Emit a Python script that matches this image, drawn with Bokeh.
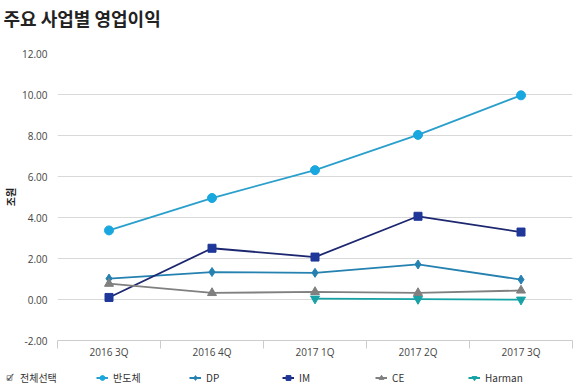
import math
from bokeh.plotting import figure
from bokeh.layouts import column, row
from bokeh.models import (Range1d, FixedTicker, NumeralTickFormatter, Legend,
                          LegendItem, Label, Title)
from bokeh.embed import file_html
from bokeh.resources import INLINE

# ---------------- data ----------------
quarters = ["2016 3Q", "2016 4Q", "2017 1Q", "2017 2Q", "2017 3Q"]
semiconductor = [3.37, 4.95, 6.31, 8.03, 9.96]
dp = [1.02, 1.34, 1.30, 1.71, 0.97]
im = [0.10, 2.50, 2.07, 4.06, 3.29]
ce = [0.77, 0.32, 0.37, 0.32, 0.44]
harman = [math.nan, math.nan, 0.04, 0.02, -0.01]
y_ticks = [-2, 0, 2, 4, 6, 8, 10, 12]
series_names = ["반도체", "DP", "IM", "CE", "Harman"]
title_text = "주요 사업별 영업이익"
y_label = "조원"
select_all_label = "전체선택"

# ---------------- main figure ----------------
n = len(quarters)
xs = [i + 0.5 for i in range(n)]

p = figure(width=580, height=367, output_backend="svg", toolbar_location=None,
           title=None,
           x_range=Range1d(0, n), y_range=Range1d(y_ticks[0], y_ticks[-1]),
           min_border_left=55, min_border_right=8, min_border_top=0,
           min_border_bottom=27)
p.outline_line_color = None
p.background_fill_color = "white"

p.add_layout(Title(text=" ", text_font_size="1px", standoff=18), "above")
p.add_layout(Title(text=title_text, text_font="Noto Sans CJK KR",
                   text_font_size="18px", text_font_style="bold",
                   text_color="#222222", offset=-54, standoff=4), "above")

p.yaxis.ticker = FixedTicker(ticks=y_ticks)
p.yaxis.formatter = NumeralTickFormatter(format="0.00")
p.yaxis.axis_line_color = None
p.yaxis.major_tick_line_color = None
p.yaxis.minor_tick_line_color = None
p.yaxis.major_tick_out = 0
p.yaxis.minor_tick_out = 0
p.yaxis.major_label_standoff = 10
p.yaxis.major_label_text_font = "Open Sans"
p.yaxis.major_label_text_font_size = "10px"
p.yaxis.major_label_text_color = "#444444"
p.yaxis.axis_label = y_label
p.yaxis.axis_label_text_font = "Noto Sans CJK KR"
p.yaxis.axis_label_text_font_size = "10px"
p.yaxis.axis_label_text_font_style = "bold"
p.yaxis.axis_label_text_color = "#222222"
p.yaxis.axis_label_standoff = 1

p.xaxis.ticker = FixedTicker(ticks=xs, minor_ticks=list(range(n + 1)))
p.xaxis.major_label_overrides = {x: q for x, q in zip(xs, quarters)}
p.xaxis.major_tick_line_color = None
p.xaxis.major_tick_out = 0
p.xaxis.major_tick_in = 0
p.xaxis.minor_tick_line_color = "#cccccc"
p.xaxis.minor_tick_out = 8
p.xaxis.minor_tick_in = 0
p.xaxis.axis_line_color = "#cccccc"
p.xaxis.major_label_standoff = -4
p.xaxis.major_label_text_font = "Open Sans"
p.xaxis.major_label_text_font_size = "10px"
p.xaxis.major_label_text_color = "#444444"

p.xgrid.visible = False
p.ygrid.grid_line_color = "#d9d9d9"
p.ygrid.grid_line_width = 1

specs = [
    (semiconductor, "#2a9fcc", "#19a7df", "circle", 9),
    (dp, "#2481b0", "#2481b0", "diamond", 9),
    (im, "#1d2770", "#1e3799", "square", 8),
    (ce, "#808080", "#808080", "triangle", 9),
    (harman, "#17a3a6", "#17a3a6", "inverted_triangle", 9),
]
for vals, lc, mc, marker, size in specs:
    p.line(xs, vals, line_color=lc, line_width=1.8)
    p.scatter(xs, vals, marker=marker, size=size, fill_color=mc, line_color=mc)

# ---------------- legend strip ----------------
LG_H = 20
lg = figure(width=580, height=LG_H, output_backend="svg",
            toolbar_location=None, title=None,
            x_range=Range1d(0, n), y_range=Range1d(y_ticks[0], y_ticks[-1]),
            x_axis_location=None, y_axis_location=None,
            min_border_left=0, min_border_right=0, min_border_top=0,
            min_border_bottom=0)
lg.outline_line_color = None
lg.xgrid.visible = False
lg.ygrid.visible = False

items = []
box = lg.scatter(xs, semiconductor, marker="square", size=11,
                 fill_color=None, line_color="#999999", line_width=1,
                 visible=False)
items.append(LegendItem(label=select_all_label, renderers=[box]))
for (vals, lc, mc, marker, size), name in zip(specs, series_names):
    l = lg.line(xs, vals, line_color=lc, line_width=1.8, visible=False)
    s = lg.scatter(xs, vals, marker=marker, size=size, fill_color=mc,
                   line_color=mc, visible=False)
    items.append(LegendItem(label=name, renderers=[l, s]))

legend = Legend(items=items, orientation="horizontal", location="left",
                glyph_width=12, glyph_height=12, label_height=12,
                label_standoff=5, label_width=70, spacing=6, padding=0,
                margin=3, border_line_color=None, background_fill_alpha=0,
                inactive_fill_alpha=0,
                label_text_font="Noto Sans CJK KR", label_text_font_size="10px",
                label_text_color="#333333")
lg.add_layout(legend)

check = Label(x=10, y=LG_H / 2, x_units="screen", y_units="screen", text="✓",
              text_align="center", text_baseline="middle",
              text_font="DejaVu Sans", text_font_size="13px",
              text_color="#444444")
lg.add_layout(check)

page = column(p, row(lg), spacing=0)
open("out.html", "w").write(file_html(page, INLINE))
